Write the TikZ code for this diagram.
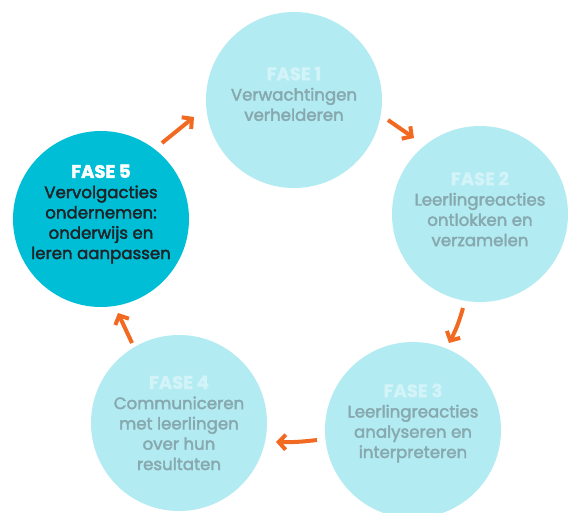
\documentclass[tikz,border=0pt]{standalone}
\usepackage{fontspec}
\setmainfont{Poppins}
\newfontfamily\medfont[FakeBold=2.2]{Poppins}
\usetikzlibrary{arrows.meta,calc}
\definecolor{lightc}{RGB}{178,235,242}
\definecolor{darkc}{RGB}{0,190,214}
\definecolor{greytxt}{RGB}{135,168,174}
\definecolor{headlt}{RGB}{210,243,248}
\definecolor{darktxt}{RGB}{28,36,40}
\definecolor{orangec}{RGB}{242,106,33}
\begin{document}
\begin{tikzpicture}[x=1pt,y=-1pt,
  phase/.style={circle, fill=lightc, minimum size=176pt, inner sep=0pt},
  phasedark/.style={phase, fill=darkc},
  ptext/.style={align=center, text=greytxt, font=\medfont\fontsize{16.6}{20.3}\selectfont},
  ptextdark/.style={ptext, text=darktxt},
  arr/.style={draw=orangec, line width=4pt, -{Straight Barb[length=7pt,width=15pt,line width=4pt]}}
]
\useasboundingbox (0,0) rectangle (568,512);
\fill[white] (0,0) rectangle (568,512);

\node[phase] (f1) at (294,100) {};
\node[phase] (f2) at (480,214) {};
\node[phase] (f3) at (413,430) {};
\node[phase] (f4) at (179,423) {};
\node[phasedark] (f5) at (101,219) {};

\newcommand{\hd}[2]{{\color{#1}\fontsize{18}{20.3}\selectfont\bfseries #2}}

\node[ptext] (t1) at ($(f1)+(0,-6)$) {\hd{headlt}{FASE 1}\\Verwachtingen\\verhelderen};
\node[ptext] (t2) at ($(f2)+(0,-5)$) {\hd{headlt}{FASE 2}\\Leerlingreacties\\ontlokken en\\verzamelen};
\node[ptext] (t3) at ($(f3)+(0,-7)$) {\hd{headlt}{FASE 3}\\Leerlingreacties\\analyseren en\\interpreteren};
\node[ptext] (t4) at ($(f4)+(0,0)$) {\hd{headlt}{FASE 4}\\Communiceren\\met leerlingen\\over hun\\resultaten};
\node[ptextdark] (t5) at ($(f5)+(0,-5)$) {\hd{white}{FASE 5}\\Vervolgacties\\ondernemen:\\onderwijs en\\leren aanpassen};

\coordinate (a1s) at ($(f5)+(61,-76)$);
\coordinate (a1e) at ($(f1)+(-100,17)$);
\coordinate (a2s) at ($(f1)+(94,20)$);
\coordinate (a2e) at ($(f2)+(-66,-76)$);
\coordinate (a3s) at ($(f2)+(-17,94)$);
\coordinate (a3e) at ($(f3)+(36,-87)$);
\coordinate (a4s) at ($(f3)+(-96,10)$);
\coordinate (a4e) at ($(f4)+(97,19)$);
\coordinate (a5s) at ($(f4)+(-47,-80)$);
\coordinate (a5e) at ($(f5)+(17,94)$);

\draw[arr] (a1s) -- (a1e);
\draw[arr] (a2s) -- (a2e);
\draw[arr] (a3s) to[bend left=6] (a3e);
\draw[arr] (a4s) to[bend left=4] (a4e);
\draw[arr] (a5s) -- (a5e);
\end{tikzpicture}
\end{document}
